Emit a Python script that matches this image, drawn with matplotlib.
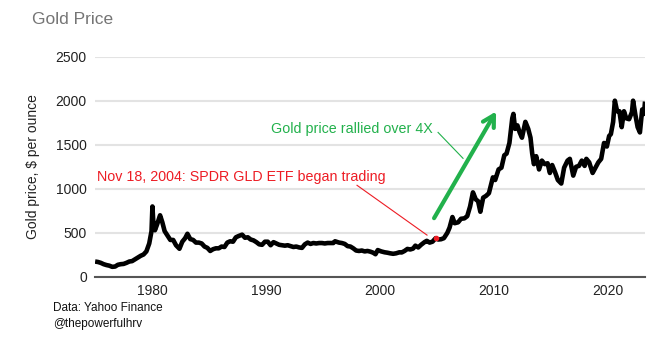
import matplotlib
matplotlib.use("Agg")
import matplotlib.pyplot as plt

plt.rcParams['font.family'] = ['Liberation Sans', 'DejaVu Sans']

# ---- data ----
years = [
    1975.00, 1975.25, 1975.50, 1975.75, 1976.00, 1976.25, 1976.50, 1976.75,
    1977.00, 1977.25, 1977.50, 1977.75, 1978.00, 1978.25, 1978.50, 1978.75,
    1979.00, 1979.25, 1979.50, 1979.75, 1979.95, 1980.03, 1980.10, 1980.25,
    1980.45, 1980.70, 1980.90, 1981.10, 1981.35, 1981.60, 1981.85, 1982.10,
    1982.40, 1982.65, 1982.90, 1983.10, 1983.35, 1983.60, 1983.85, 1984.10,
    1984.35, 1984.60, 1984.85, 1985.10, 1985.35, 1985.60, 1985.85, 1986.10,
    1986.35, 1986.60, 1986.85, 1987.10, 1987.35, 1987.60, 1987.90, 1988.15,
    1988.40, 1988.65, 1988.90, 1989.15, 1989.40, 1989.65, 1989.90, 1990.15,
    1990.40, 1990.65, 1990.90, 1991.15, 1991.40, 1991.65, 1991.90, 1992.15,
    1992.40, 1992.65, 1992.90, 1993.15, 1993.40, 1993.65, 1993.90, 1994.15,
    1994.40, 1994.65, 1994.90, 1995.15, 1995.40, 1995.65, 1995.90, 1996.05,
    1996.40, 1996.65, 1996.90, 1997.15, 1997.40, 1997.65, 1997.90, 1998.15,
    1998.40, 1998.65, 1998.90, 1999.15, 1999.40, 1999.60, 1999.80, 2000.10,
    2000.40, 2000.65, 2000.90, 2001.15, 2001.40, 2001.70, 2001.90, 2002.15,
    2002.40, 2002.65, 2002.90, 2003.10, 2003.35, 2003.60, 2003.90, 2004.10,
    2004.35, 2004.60, 2004.88, 2005.10, 2005.35, 2005.60, 2005.90, 2006.10,
    2006.35, 2006.55, 2006.85, 2007.10, 2007.40, 2007.65, 2007.90, 2008.15,
    2008.40, 2008.60, 2008.80, 2009.05, 2009.30, 2009.55, 2009.90, 2010.10,
    2010.40, 2010.65, 2010.90, 2011.10, 2011.35, 2011.60, 2011.70, 2011.85,
    2012.05, 2012.25, 2012.45, 2012.75, 2013.00, 2013.20, 2013.35, 2013.50,
    2013.70, 2013.95, 2014.20, 2014.45, 2014.70, 2014.90, 2015.10, 2015.35,
    2015.60, 2015.90, 2016.15, 2016.45, 2016.65, 2016.95, 2017.20, 2017.45,
    2017.70, 2017.95, 2018.10, 2018.35, 2018.65, 2018.90, 2019.15, 2019.40,
    2019.65, 2019.90, 2020.10, 2020.25, 2020.45, 2020.60, 2020.80, 2021.00,
    2021.20, 2021.40, 2021.60, 2021.85, 2022.10, 2022.20, 2022.40, 2022.60,
    2022.80, 2023.00, 2023.15, 2023.25,
]
prices = [
    175, 170, 160, 145, 135, 128, 115, 118,
    138, 145, 148, 160, 175, 180, 200, 220,
    240, 255, 290, 380, 520, 800, 640, 530,
    600, 700, 620, 520, 470, 420, 420, 360,
    320, 400, 440, 490, 430, 420, 390, 390,
    380, 345, 330, 295, 315, 325, 325, 345,
    340, 390, 405, 400, 450, 465, 480, 445,
    450, 425, 415, 395, 370, 365, 400, 400,
    360, 395, 380, 365, 360, 355, 360, 350,
    340, 345, 335, 330, 370, 390, 375, 385,
    380, 385, 385, 380, 385, 385, 385, 405,
    390, 385, 375, 350, 345, 325, 300, 295,
    300, 290, 295, 287, 275, 258, 305, 290,
    280, 275, 268, 263, 268, 280, 278, 295,
    318, 312, 322, 355, 335, 365, 395, 410,
    390, 400, 440, 425, 428, 440, 500, 560,
    680, 610, 620, 660, 665, 690, 800, 960,
    880, 860, 740, 900, 920, 950, 1130, 1100,
    1220, 1240, 1380, 1400, 1520, 1800, 1850, 1680,
    1720, 1640, 1580, 1760, 1680, 1580, 1400, 1280,
    1370, 1220, 1320, 1280, 1290, 1180, 1270, 1190,
    1100, 1060, 1240, 1320, 1340, 1150, 1250, 1260,
    1320, 1260, 1340, 1300, 1180, 1240, 1300, 1340,
    1520, 1480, 1600, 1620, 1760, 2000, 1880, 1880,
    1700, 1880, 1800, 1790, 1870, 2000, 1840, 1700,
    1640, 1900, 1850, 1990,
]
yticks = [0, 500, 1000, 1500, 2000, 2500]
xticks = [1980, 1990, 2000, 2010, 2020]

gld_date = 2004.88
gld_price = 440

RED = '#ed1c24'
GREEN = '#22b14c'

fig = plt.figure(figsize=(6.65, 3.39), dpi=100)
ax = fig.add_axes([0.143, 0.183, 0.827, 0.650])

ax.plot(years, prices, color='black', lw=3.3, solid_joinstyle='round',
        solid_capstyle='butt', zorder=3)

ax.set_xlim(1975.0, 2023.25)
ax.set_ylim(0, 2500)
ax.set_yticks(yticks)
ax.set_xticks(xticks)
ax.set_yticklabels([str(v) for v in yticks])
ax.set_xticklabels([str(v) for v in xticks])
ax.grid(axis='y', color='#e3e3e3', lw=1.5, zorder=0)
ax.tick_params(axis='x', length=0, labelsize=10, colors='#222222', pad=5)
ax.tick_params(axis='y', length=0, labelsize=10, colors='#222222', pad=6)
for s in ['top', 'right', 'left']:
    ax.spines[s].set_visible(False)
ax.spines['bottom'].set_color('#555555')
ax.spines['bottom'].set_linewidth(1.5)
ax.spines['bottom'].set_zorder(4)

ax.set_ylabel('Gold price, $ per ounce', fontsize=10, color='#222222', labelpad=11)

# annotations
ax.text(1975.18, 1131, 'Nov 18, 2004: SPDR GLD ETF began trading', color=RED,
        fontsize=10.3, ha='left', va='center')
ax.plot([1997.98, 2004.12], [1040, 475], color=RED, lw=0.8, zorder=4)
ax.plot([gld_date], [gld_price], 'o', color=RED, ms=3, zorder=5)

ax.text(2004.65, 1674, 'Gold price rallied over 4X', color=GREEN,
        fontsize=10.3, ha='right', va='center')
ax.plot([2005.09, 2007.28], [1640, 1346], color=GREEN, lw=0.8, zorder=4)
ax.annotate('', xy=(2010.18, 1877), xytext=(2004.74, 667),
            arrowprops=dict(arrowstyle='->,head_length=0.8,head_width=0.45',
                            color=GREEN, lw=3, shrinkA=0, shrinkB=0),
            zorder=5, annotation_clip=False)

fig.text(32 / 665, 1 - 24 / 339, 'Gold Price', color='#757575', fontsize=12.5,
         ha='left', va='baseline')
fig.text(53 / 665, 1 - 308 / 339, 'Data: Yahoo Finance', color='#111111',
         fontsize=8.5, ha='left', va='center')
fig.text(53 / 665, 1 - 324 / 339, '@thepowerfulhrv', color='#111111',
         fontsize=8.5, ha='left', va='center')

fig.savefig('out.png', dpi=100, facecolor='white')
